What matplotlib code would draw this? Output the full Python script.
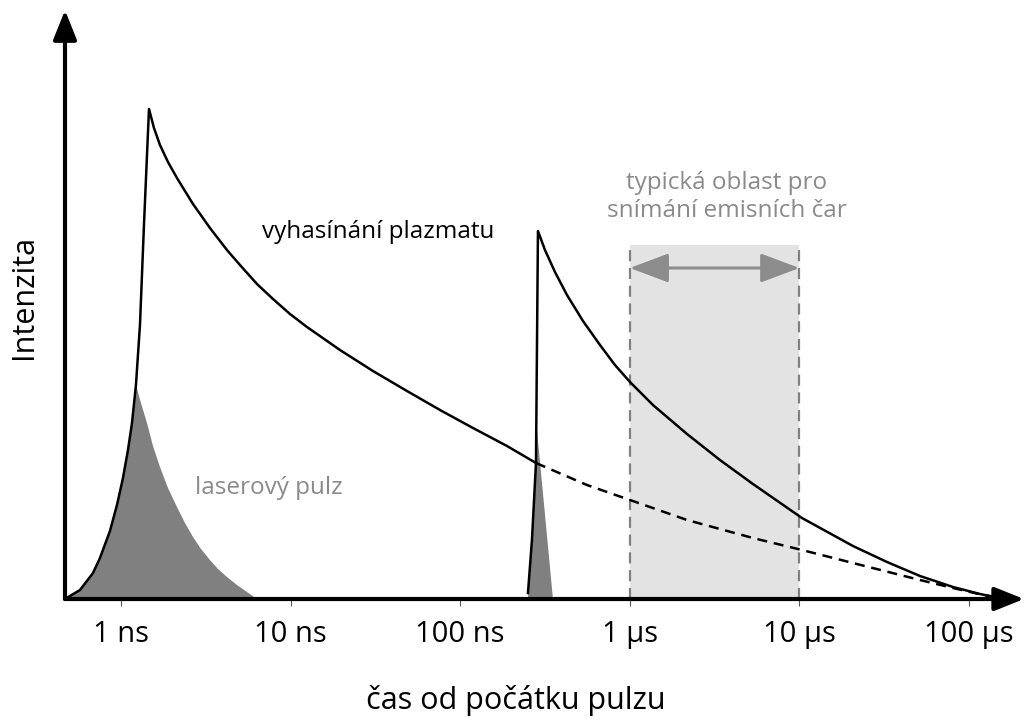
import matplotlib as mpl
mpl.use('Agg')
import matplotlib.pyplot as plt

mpl.rc('font', family=['Open Sans', 'DejaVu Sans'])

# time in ns, intensity in arbitrary units
main_t = [0.4676, 0.5731, 0.6839, 0.7517, 0.8611, 0.9471, 1.0275, 1.0998, 1.1612, 1.2255,
          1.2942, 1.3664, 1.4628, 1.5652, 1.6982, 1.8927, 2.1387, 2.6584, 3.3477, 4.217,
          5.031, 6.3373, 7.876, 9.9197, 12.496, 19.557, 30.604, 48.57, 76.03, 119.0,
          188.8, 279.9]
main_i = [0, 0.09, 0.26, 0.41, 0.68, 0.94, 1.21, 1.49, 1.76, 2.14,
          2.74, 3.74, 4.90, 4.71, 4.54, 4.37, 4.21, 3.95, 3.71, 3.49,
          3.34, 3.15, 3.00, 2.85, 2.72, 2.49, 2.28, 2.08, 1.89, 1.71,
          1.53, 1.36]

tail_t = [279.9, 559.3, 1002.8, 2175, 5325, 10360, 20700, 51420, 80500, 120900, 152400]
tail_i = [1.36, 1.14, 0.99, 0.79, 0.61, 0.49, 0.36, 0.19, 0.11, 0.04, 0.01]

second_t = [251.0, 265.0, 279.9, 287.5, 316.2, 362.2, 426.4, 529.9, 667.4, 817.9,
            1003, 1370, 2175, 3402, 5325, 10360, 20700, 32860, 51420, 80500,
            116100, 152400]
second_i = [0.06, 0.59, 1.36, 3.68, 3.49, 3.27, 3.04, 2.78, 2.54, 2.34,
            2.17, 1.94, 1.65, 1.39, 1.15, 0.81, 0.53, 0.37, 0.23, 0.12,
            0.05, 0.01]

pulse1_t = [0.4676, 0.5731, 0.6839, 0.7517, 0.8611, 0.9471, 1.0275, 1.0998, 1.1612, 1.2255,
            1.312, 1.4235, 1.5442, 1.6982, 1.8927, 2.1387, 2.385, 2.6584, 2.9634, 3.3477,
            3.7318, 4.217, 4.8306, 5.5338, 6.3373]
pulse1_i = [0, 0.09, 0.26, 0.41, 0.68, 0.94, 1.21, 1.49, 1.76, 2.14,
            1.96, 1.76, 1.53, 1.32, 1.11, 0.92, 0.76, 0.62, 0.50, 0.39,
            0.30, 0.22, 0.14, 0.07, 0]

pulse2_t = [251.0, 265.0, 276.1, 283.7, 352.5]
pulse2_i = [0, 0.54, 1.09, 1.69, 0]

window = [1000, 10000]   # 1 us .. 10 us
window_top = 3.54
window_arrow = 3.31

ticks = [1, 10, 100, 1000, 10000, 100000]
tick_labels = ['1 ns', '10 ns', '100 ns', '1 \u00b5s', '10 \u00b5s', '100 \u00b5s']

W, H = 1026, 722
fig = plt.figure(figsize=(W / 100, H / 100), dpi=100)
ax = fig.add_axes([65 / W, (H - 599) / H, 935 / W, 579 / H])
ax.set_xscale('log')
ax.set_xlim(0.4677, 152400)
ax.set_ylim(0, 5.79)

grey = '#808080'
txtgrey = '#8a8a8a'

# measurement window
ax.fill_between(window, 0, window_top, color='#e3e3e3', lw=0, zorder=0)
ax.vlines(window, 0, window_top, colors=grey, linestyles=(0, (5, 3)), lw=1.6, zorder=1)
ax.annotate('', xy=(window[1], window_arrow), xytext=(window[0], window_arrow),
            arrowprops=dict(arrowstyle='<|-|>,head_length=0.8,head_width=0.3',
                            color='#8c8c8c', lw=2.2, mutation_scale=30,
                            shrinkA=0, shrinkB=0), zorder=2)

# laser pulses
ax.fill(pulse1_t, pulse1_i, color=grey, lw=0, zorder=1)
ax.fill(pulse2_t, pulse2_i, color=grey, lw=0, zorder=1)

# plasma decay
ax.plot(main_t, main_i, color='k', lw=1.8, zorder=3, solid_joinstyle='round')
ax.plot(second_t, second_i, color='k', lw=1.8, zorder=3, solid_joinstyle='round')
ax.plot(tail_t, tail_i, color='k', lw=1.8, ls=(0, (4, 2.7)), zorder=3)

# axes as arrows
for s in ax.spines.values():
    s.set_visible(False)
arr = dict(arrowstyle='-|>,head_length=0.45,head_width=0.18', color='k', lw=3,
           mutation_scale=40, shrinkA=0, shrinkB=0)
ax.annotate('', xy=(1.0257, 0), xytext=(0, 0), xycoords='axes fraction',
            arrowprops=arr, annotation_clip=False, zorder=5)
ax.annotate('', xy=(0, 1.017), xytext=(0, 0), xycoords='axes fraction',
            arrowprops=arr, annotation_clip=False, zorder=5)

ax.set_xticks(ticks)
ax.set_xticklabels(tick_labels)
ax.minorticks_off()
ax.set_yticks([])
ax.tick_params(axis='x', direction='out', length=5, width=0.8, color='#555555',
               labelsize=21, pad=10)

ax.text(6.78, 3.67, 'vyhasínání plazmatu', fontsize=17.5, ha='left', va='center', zorder=4)
ax.text(2.73, 1.11, 'laserový pulz', fontsize=17.5, color=txtgrey, ha='left', va='center', zorder=4)
ax.text(3742, 4.02, 'typická oblast pro\nsnímání emisních čar', fontsize=17.5, color=txtgrey,
        ha='center', va='center', linespacing=1.2, zorder=4)

fig.text(24 / W, 1 - 297 / H, 'Intenzita', fontsize=22, rotation=90, ha='center', va='center')
fig.text(516 / W, 1 - 700 / H, 'čas od počátku pulzu', fontsize=22, ha='center', va='center')

fig.savefig('out.png', dpi=100)
